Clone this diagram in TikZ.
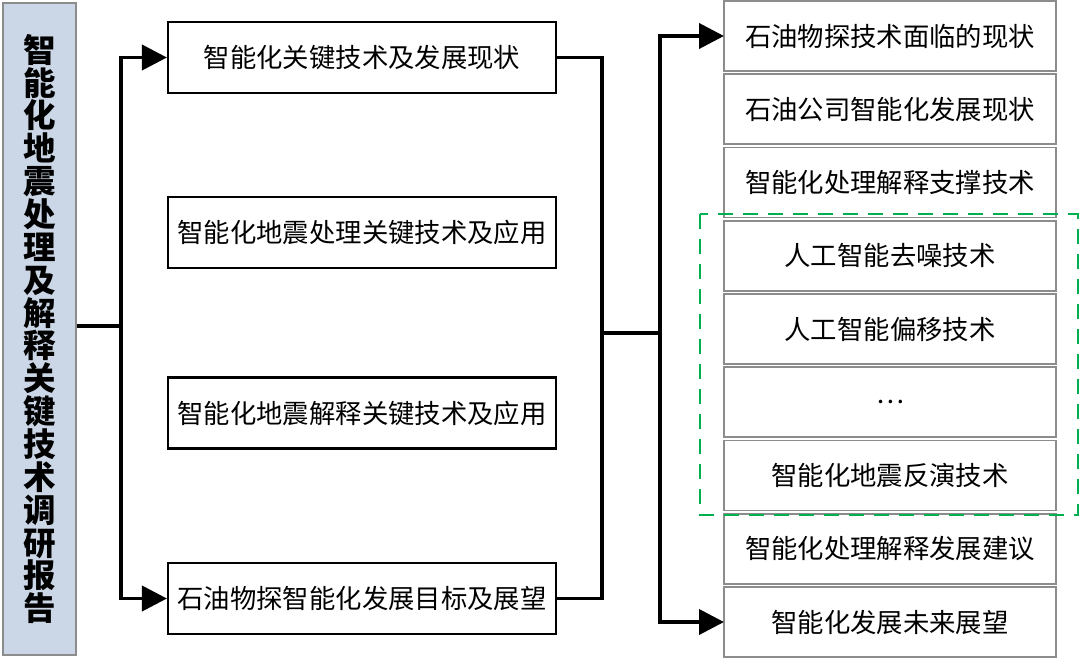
\documentclass[tikz,border=0pt]{standalone}
\usepackage{fontspec}
\setmainfont{Noto Sans CJK SC}
\usepackage{tikz}
\usetikzlibrary{positioning,arrows.meta}

\definecolor{titlefill}{RGB}{203,215,230}
\definecolor{boxgray}{RGB}{140,140,140}
\definecolor{dashgreen}{RGB}{0,176,80}

\tikzset{
  titlebox/.style={draw=boxgray, line width=1pt, fill=titlefill, minimum width=1.46cm,
    minimum height=13.04cm, inner sep=0pt, align=center,
    font=\fontsize{18.5pt}{18.7pt}\selectfont\bfseries},
  mainbox/.style={draw=black, line width=1.2pt, minimum width=7.76cm, minimum height=1.42cm,
    inner sep=0pt, font=\fontsize{15pt}{18pt}\selectfont},
  subbox/.style={draw=boxgray, line width=0.9pt, minimum width=6.64cm, minimum height=1.4cm,
    inner sep=0pt, outer sep=0pt, font=\fontsize{15pt}{18pt}\selectfont},
  link/.style={line width=2.2pt, line join=miter},
  tip/.style={{Triangle[length=0.5cm,width=0.5cm]}-{Triangle[length=0.5cm,width=0.5cm]}}
}

\begin{document}
\begin{tikzpicture}
	\useasboundingbox (0,0) rectangle (21.6,-13.16);
	% title column
	\node[titlebox] (title) at (0.79,-6.58) {智\\能\\化\\地\\震\\处\\理\\及\\解\\释\\关\\键\\技\\术\\调\\研\\报\\告};
	% middle column
	\node[mainbox] (m1) at (7.24,-1.15) {智能化关键技术及发展现状};
	\node[mainbox] (m2) at (7.24,-4.65) {智能化地震处理关键技术及应用};
	\node[mainbox] (m3) at (7.24,-8.26) {智能化地震解释关键技术及应用};
	\node[mainbox] (m4) at (7.24,-11.97) {石油物探智能化发展目标及展望};
	% right column
	\node[subbox] (r1) at (17.8,-0.72) {石油物探技术面临的现状};
	\node[subbox] (r2) [below=0.065cm of r1] {石油公司智能化发展现状};
	\node[subbox] (r3) [below=0.065cm of r2] {智能化处理解释支撑技术};
	\node[subbox] (r4) [below=0.065cm of r3] {人工智能去噪技术};
	\node[subbox] (r5) [below=0.065cm of r4] {人工智能偏移技术};
	\node[subbox] (r6) [below=0.065cm of r5] {…};
	\node[subbox] (r7) [below=0.065cm of r6] {智能化地震反演技术};
	\node[subbox] (r8) [below=0.065cm of r7] {智能化处理解释发展建议};
	\node[subbox] (r9) [below=0.065cm of r8] {智能化发展未来展望};
	% dashed group
	\draw[dashgreen, line width=1.6pt, dash pattern=on 0.3cm off 0.2cm]
		(14.0,-4.28) rectangle (21.56,-10.3);
	% connectors
	\coordinate (ja) at (2.42,-6.52);
	\coordinate (jb) at (12.04,-6.66);
	\coordinate (jc) at (13.2,-6.66);
	\draw[link] (title.east |- ja) -- (ja);
	\draw[link, tip] (m1.west) -| (ja) |- (m4.west);
	\draw[link] (m1.east) -| (jb) |- (m4.east);
	\draw[link] (jb) -- (jc);
	\draw[link, tip] (r1.west) -| (jc) |- (r9.west);
\end{tikzpicture}
\end{document}
